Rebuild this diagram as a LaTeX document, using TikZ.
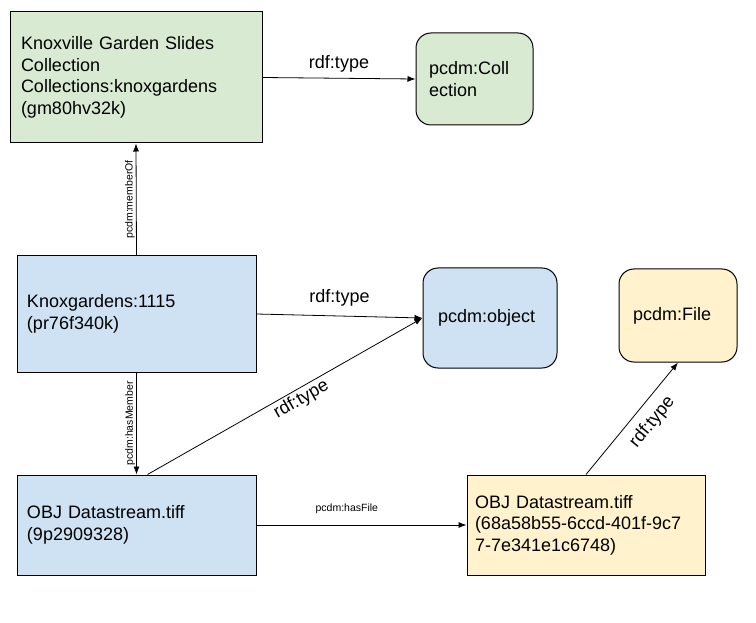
\documentclass[tikz,border=0pt]{standalone}
\usepackage{fontspec}
\setmainfont{Liberation Sans}
\usetikzlibrary{arrows.meta}
\definecolor{lightgreen}{RGB}{217, 234, 211}
\definecolor{lightblue}{RGB}{207, 226, 243}
\definecolor{lightyellow}{RGB}{255, 242, 204}

\begin{document}
\begin{tikzpicture}[x=1pt, y=-1pt,
    box/.style={draw, line width=1pt, align=left, font=\fontsize{18}{21.6}\selectfont},
    link/.style={-{Latex[length=8pt, width=6pt]}, line width=0.8pt},
    big/.style={font=\fontsize{18}{21.6}\selectfont},
    small/.style={font=\fontsize{10.5}{12}\selectfont, inner sep=1pt}]

  \useasboundingbox (0, 0) rectangle (756, 623);

  % collection level
  \node[box, fill=lightgreen, text width=230pt, inner xsep=11pt, minimum height=131pt] (coll) at (136, 77.5)
    {Knoxville Garden Slides\\Collection\\Collections:knoxgardens\\(gm80hv32k)};
  \node[box, fill=lightgreen, rounded corners=15pt, text width=91pt, inner xsep=13pt, minimum height=92pt] (colltype) at (474.5, 79)
    {pcdm:Coll\\ection};

  % object level
  \node[box, fill=lightblue, text width=219pt, inner xsep=10pt, minimum height=116pt] (knox) at (136.5, 314)
    {Knoxgardens:1115\\(pr76f340k)};
  \node[box, fill=lightblue, rounded corners=15pt, text width=104pt, inner xsep=15pt, minimum height=100pt] (objtype) at (490, 318)
    {pcdm:object};

  % file level
  \node[box, fill=lightblue, text width=219pt, inner xsep=10pt, minimum height=100pt] (ds) at (136.5, 525)
    {OBJ Datastream.tiff\\(9p2909328)};
  \node[box, fill=lightyellow, text width=222pt, inner xsep=8pt, minimum height=100pt] (file) at (586, 525)
    {OBJ Datastream.tiff\\(68a58b55-6ccd-401f-9c7\\7-7e341e1c6748)};
  \node[box, fill=lightyellow, rounded corners=15pt, text width=90pt, inner xsep=14pt, minimum height=93pt] (filetype) at (678, 315.5)
    {pcdm:File};

  \draw[link] (coll.east) -- node[big, midway, above=2pt] {rdf:type} (colltype.west);
  \draw[link] (knox.north) -- node[small, midway, rotate=90, anchor=south] {pcdm:memberOf} (coll.south);
  \draw[link] (knox.east) -- node[big, midway, above=6pt] {rdf:type} (objtype.west);
  \draw[link] (knox.south) -- node[small, midway, rotate=90, anchor=south] {pcdm:hasMember} (ds.north);
  \draw[link] ([xshift=11pt]ds.north) -- node[big, pos=0.54, sloped, below=-1pt] {rdf:type} (objtype.west);
  \draw[link] (ds.east) -- node[small, pos=0.43, above=10pt] {pcdm:hasFile} (file.west);
  \draw[link] (file.north) -- node[big, pos=0.57, sloped, below=6pt] {rdf:type} (filetype.south);

\end{tikzpicture}
\end{document}
